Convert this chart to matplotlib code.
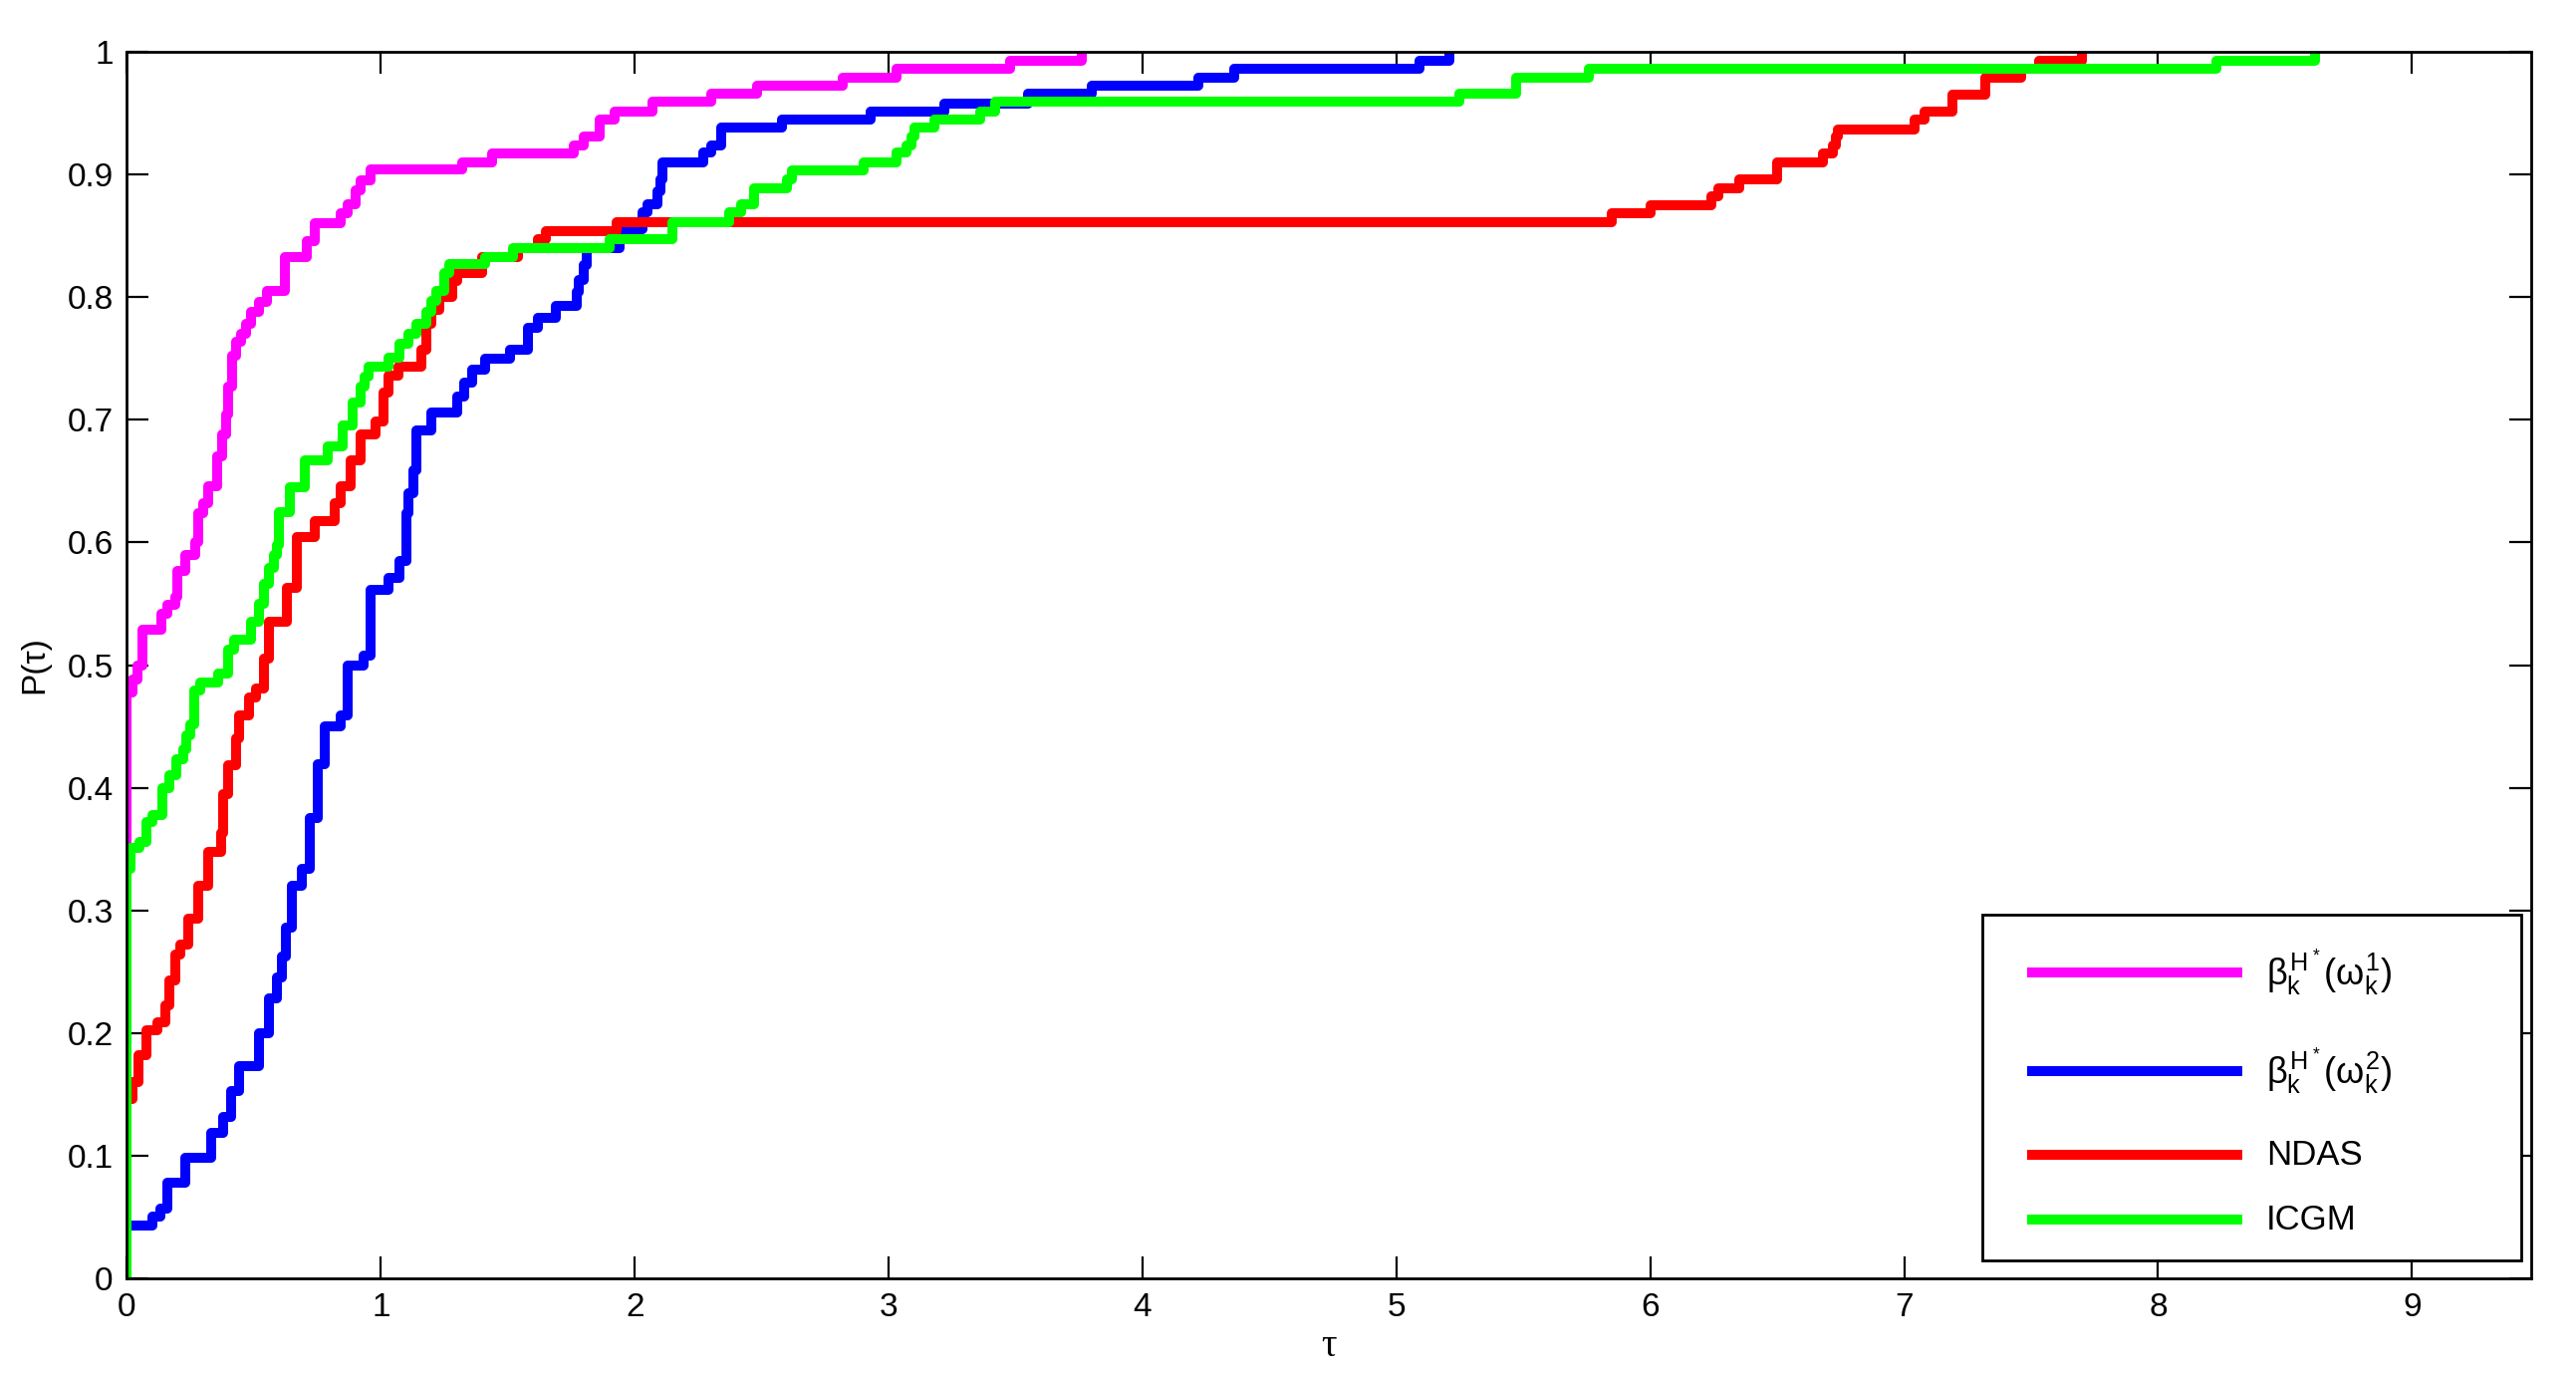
# performance profile (step curves)
import numpy as np
import matplotlib
matplotlib.use('Agg')
import matplotlib.pyplot as plt
from matplotlib.ticker import FuncFormatter
from matplotlib.patches import Rectangle

plt.rcParams['font.family'] = ['Liberation Sans', 'DejaVu Sans']
plt.rcParams['mathtext.fontset'] = 'custom'
plt.rcParams['mathtext.rm'] = 'Liberation Sans'
plt.rcParams['mathtext.it'] = 'Liberation Sans'

# data: tau where each step starts, and the new value
tau_m = [0, 0.02, 0.04, 0.06, 0.135, 0.16, 0.19, 0.2, 0.23, 0.27, 0.28, 0.3, 0.32,
         0.355, 0.375, 0.39, 0.4, 0.415, 0.43, 0.45, 0.47, 0.49, 0.52, 0.55, 0.62,
         0.71, 0.74, 0.84, 0.87, 0.9, 0.92, 0.96, 1.32, 1.44, 1.76, 1.8, 1.86, 1.92,
         2.07, 2.3, 2.48, 2.82, 3.03, 3.48, 3.76]
p_m = [0.478, 0.488, 0.5, 0.529, 0.542, 0.549, 0.556, 0.577, 0.59, 0.6, 0.624, 0.632,
       0.646, 0.67, 0.688, 0.704, 0.727, 0.752, 0.764, 0.77, 0.778, 0.788, 0.796,
       0.805, 0.833, 0.846, 0.86, 0.868, 0.876, 0.887, 0.895, 0.904, 0.91, 0.917,
       0.924, 0.931, 0.945, 0.951, 0.959, 0.966, 0.972, 0.979, 0.986, 0.993, 1.0]

tau_b = [0, 0.1, 0.13, 0.16, 0.23, 0.33, 0.38, 0.41, 0.44, 0.52, 0.56, 0.59, 0.61,
         0.625, 0.65, 0.69, 0.72, 0.75, 0.78, 0.84, 0.87, 0.93, 0.96, 1.03, 1.075,
         1.1, 1.11, 1.13, 1.14, 1.2, 1.3, 1.33, 1.36, 1.41, 1.51, 1.58, 1.62, 1.69,
         1.77, 1.78, 1.8, 1.81, 1.94, 2.03, 2.05, 2.09, 2.1, 2.11, 2.27, 2.3, 2.34,
         2.58, 2.93, 3.22, 3.55, 3.8, 4.22, 4.36, 5.09, 5.21]
p_b = [0.043, 0.05, 0.057, 0.078, 0.098, 0.119, 0.132, 0.153, 0.173, 0.2, 0.228,
       0.245, 0.262, 0.286, 0.32, 0.334, 0.375, 0.419, 0.45, 0.459, 0.5, 0.508,
       0.561, 0.571, 0.585, 0.624, 0.64, 0.659, 0.691, 0.706, 0.719, 0.73, 0.741,
       0.75, 0.757, 0.775, 0.783, 0.793, 0.804, 0.814, 0.826, 0.84, 0.855, 0.869,
       0.876, 0.886, 0.896, 0.91, 0.918, 0.924, 0.938, 0.945, 0.951, 0.958, 0.966,
       0.972, 0.979, 0.986, 0.993, 1.0]

tau_r = [0, 0.02, 0.045, 0.075, 0.12, 0.15, 0.165, 0.19, 0.21, 0.24, 0.28, 0.32,
         0.37, 0.38, 0.4, 0.43, 0.44, 0.48, 0.51, 0.54, 0.56, 0.63, 0.67, 0.74, 0.82,
         0.84, 0.88, 0.92, 0.98, 1.01, 1.03, 1.07, 1.16, 1.18, 1.2, 1.23, 1.28, 1.3,
         1.4, 1.54, 1.62, 1.65, 1.93, 5.85, 6.0, 6.24, 6.27, 6.35, 6.5, 6.68, 6.72,
         6.73, 6.74, 7.04, 7.08, 7.19, 7.32, 7.46, 7.53, 7.7]
p_r = [0.146, 0.16, 0.182, 0.202, 0.209, 0.223, 0.243, 0.264, 0.272, 0.293, 0.32,
       0.348, 0.363, 0.395, 0.418, 0.44, 0.459, 0.474, 0.481, 0.505, 0.535, 0.563,
       0.604, 0.617, 0.632, 0.646, 0.667, 0.688, 0.699, 0.722, 0.736, 0.743, 0.757,
       0.778, 0.79, 0.8, 0.813, 0.82, 0.833, 0.84, 0.847, 0.854, 0.861, 0.868, 0.875,
       0.882, 0.889, 0.896, 0.91, 0.917, 0.924, 0.931, 0.937, 0.945, 0.951, 0.965,
       0.979, 0.986, 0.993, 1.0]

tau_g = [0, 0.015, 0.05, 0.075, 0.1, 0.14, 0.165, 0.195, 0.22, 0.235, 0.25, 0.265,
         0.29, 0.36, 0.4, 0.42, 0.49, 0.52, 0.54, 0.56, 0.58, 0.59, 0.6, 0.64, 0.7,
         0.79, 0.85, 0.89, 0.92, 0.935, 0.95, 1.03, 1.075, 1.11, 1.14, 1.18, 1.2,
         1.22, 1.25, 1.27, 1.41, 1.52, 1.9, 2.15, 2.37, 2.42, 2.47, 2.6, 2.62, 2.9,
         3.03, 3.07, 3.09, 3.1, 3.18, 3.36, 3.42, 5.25, 5.47, 5.76, 8.23, 8.62]
p_g = [0.334, 0.351, 0.356, 0.372, 0.378, 0.4, 0.41, 0.423, 0.431, 0.443, 0.452,
       0.479, 0.486, 0.493, 0.513, 0.521, 0.535, 0.55, 0.566, 0.579, 0.59, 0.598,
       0.625, 0.645, 0.667, 0.678, 0.695, 0.714, 0.727, 0.735, 0.743, 0.751, 0.762,
       0.77, 0.778, 0.788, 0.797, 0.805, 0.82, 0.827, 0.833, 0.84, 0.847, 0.861,
       0.869, 0.876, 0.889, 0.896, 0.903, 0.91, 0.918, 0.924, 0.931, 0.938, 0.945,
       0.951, 0.959, 0.966, 0.979, 0.986, 0.993, 1.0]

labels = [r'$\beta_k^{H^*}(\omega_k^1)$', r'$\beta_k^{H^*}(\omega_k^2)$', 'NDAS', 'ICGM']
colors = ['#ff00ff', '#0000ff', '#ff0000', '#00ff00']
series = [(tau_m, p_m), (tau_b, p_b), (tau_r, p_r), (tau_g, p_g)]

fig = plt.figure(figsize=(12.93, 6.895), dpi=200)
ax = fig.add_axes([0.0493, 0.0696, 0.9333, 0.8927])

for (t, p), c in zip(series, colors):
    ax.step(np.r_[0, t], np.r_[0, p], where='post', color=c, lw=3.6,
            solid_joinstyle='round', solid_capstyle='round')

ax.set_xlim(0, 9.47)
ax.set_ylim(0, 1)
ax.set_xticks(range(10))
ax.set_yticks(np.arange(0, 1.01, 0.1))
ax.yaxis.set_major_formatter(FuncFormatter(lambda v, pos: '%g' % round(v, 2)))
ax.tick_params(direction='in', length=8, width=0.8, labelsize=12,
               top=True, right=True, pad=5)
for s in ax.spines.values():
    s.set_linewidth(1.0)

ax.set_xlabel('τ', fontsize=14, family='Liberation Serif', labelpad=2)
ax.set_ylabel('P(τ)', fontsize=12, labelpad=6)

# legend box drawn by hand so the tall math entries get MATLAB-like spacing
ax.add_patch(Rectangle((0.7717, 0.0146), 0.2241, 0.2819, transform=ax.transAxes,
                       facecolor='white', edgecolor='black', lw=1.0, zorder=5))
leg_y = [0.2494, 0.169, 0.1007, 0.0479]
for lab, c, yy in zip(labels, colors, leg_y):
    ax.plot([0.7904, 0.8798], [yy, yy], transform=ax.transAxes, color=c, lw=3.6,
            solid_capstyle='butt', zorder=6)
    fs = 13 if lab.startswith('$') else 12.5
    ax.text(0.8898, yy, lab, transform=ax.transAxes, fontsize=fs,
            va='center', ha='left', zorder=6)

fig.savefig('out.png', dpi=200)
